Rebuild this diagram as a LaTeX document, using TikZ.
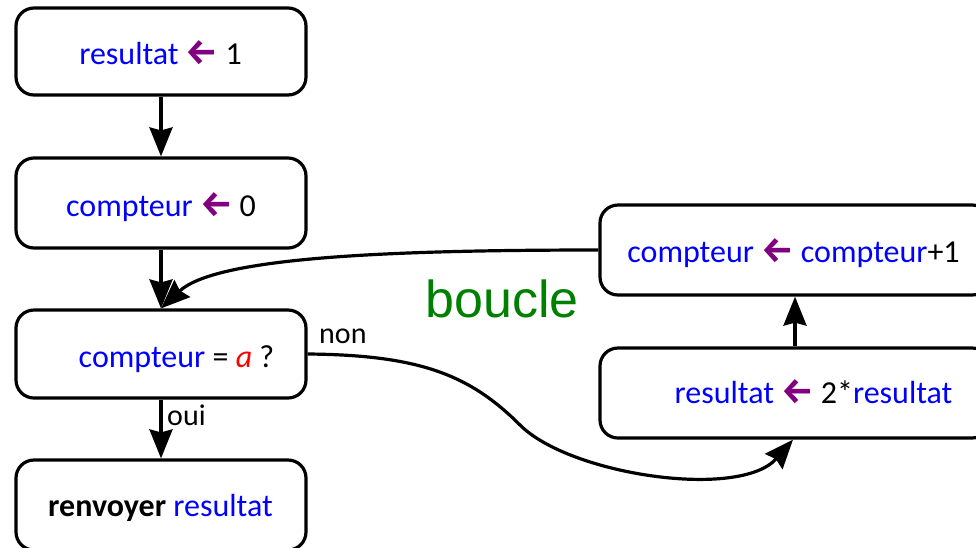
\documentclass[tikz,border=0pt]{standalone}
\usepackage{fontspec}
\setmainfont{Carlito}
\newfontfamily\arrowfont{Fira Sans}
\newfontfamily\bouclefont{Liberation Sans}
\usetikzlibrary{arrows.meta}
\definecolor{vblue}{RGB}{0,0,255}
\definecolor{vred}{RGB}{255,0,0}
\definecolor{vpurple}{RGB}{128,0,128}
\definecolor{vgreen}{RGB}{0,128,0}
\newcommand{\vv}[1]{\textcolor{vblue}{#1}}
\newcommand{\assignarrow}{\textcolor{vpurple}{\arrowfont\bfseries\fontsize{36}{40}\selectfont ←}}
\tikzset{
  box/.style={draw, line width=3.2pt, rounded corners=18pt, inner sep=0pt},
  lbox/.style={box, minimum width=290pt},
  rbox/.style={box, minimum width=390pt, minimum height=90pt},
  txt/.style={anchor=base, inner sep=0pt, font=\fontsize{32}{38}\selectfont},
  lbl/.style={anchor=base west, inner sep=0pt, font=\fontsize{30}{36}\selectfont},
  arr/.style={line width=3.2pt, -{Stealth[length=29pt,width=23pt,inset=3pt]}},
}
\begin{document}
\begin{tikzpicture}[x=1pt,y=-1pt]
\useasboundingbox (0,0) rectangle (976,547);
\clip (0,0) rectangle (976,547);
% boxes
\node[lbox, minimum height=87pt] (b1) at (161,51.5) {};
\node[lbox, minimum height=90pt] (b2) at (161,203) {};
\node[lbox, minimum height=88pt] (b3) at (161,354) {};
\node[lbox, minimum height=90pt] (b4) at (161,505) {};
\node[rbox] (rt) at (795,250) {};
\node[rbox] (rb) at (795,393) {};
% texts
\node[txt] (t1) at (160.5,64) {\vv{resultat} \assignarrow{} 1};
\node[txt] (t2) at (161,216) {\vv{compteur} \assignarrow{} 0};
\node[txt] (t3) at (176.5,367) {\vv{compteur} = \textcolor{vred}{\itshape a} ?};
\node[txt] (t4) at (160.5,516) {\textbf{renvoyer} \vv{resultat}};
\node[txt] (t5) at (793.5,262) {\vv{compteur} \assignarrow{} \vv{compteur}+1};
\node[txt] (t6) at (813.5,403) {\vv{resultat} \assignarrow{} 2*\vv{resultat}};
\node[anchor=base, inner sep=0pt, text=vgreen, font=\bouclefont\fontsize{52}{60}\selectfont] (bc) at (502,317) {boucle};
\node[lbl] (non) at (319,343) {non};
\node[lbl] (oui) at (167,425) {oui};
% connectors
\draw[arr] (b1.south) -- (b2.north);
\draw[arr] (b2.south) -- (b3.north);
\draw[arr] (b3.south) -- (b4.north);
\draw[arr] (rb.north) -- (rt.south);
\draw[arr] (rt.west) .. controls (380,250) and (215,258) .. (b3.north);
\coordinate (m) at (520,425);
\coordinate (e) at ([xshift=-2pt]rb.south);
\draw[arr] (b3.east) .. controls (420,355) and (470,375) .. (m)
  .. controls (570,475) and (740,500) .. (e);
\end{tikzpicture}
\end{document}
